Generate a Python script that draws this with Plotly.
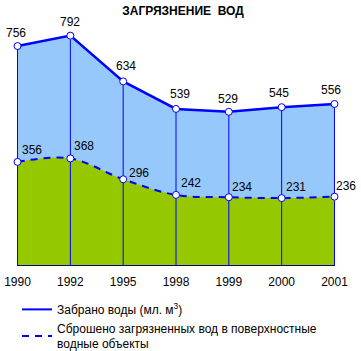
import plotly.graph_objects as go

years = ["1990", "1992", "1995", "1998", "1999", "2000", "2001"]
water_taken = [756, 792, 634, 539, 529, 545, 556]
water_discharged = [356, 368, 296, 242, 234, 231, 236]

title_text = "<b>ЗАГРЯЗНЕНИЕ\u00a0\u00a0ВОД</b>"
legend_taken = "Забрано воды (мл. м<sup>3</sup>)"
legend_discharged = "Сброшено загрязненных вод в поверхностные<br>водные объекты"

BLUE = "#0000FF"
LIGHT = "#96C8FC"
GREEN = "#96C800"
FONT = "Liberation Sans, Arial, sans-serif"

xi = list(range(len(years)))

# label offsets (pixels)
up_dx = [-2, 0, 3, 4, -1, -3, -3]
up_dy = [13, 14, 15, 15, 13, 14, 14]
lo_dx = [14, 14, 16, 15, 13, 14, 12]
lo_dy = [12, 12, 6, 12, 10, 11, 11]

fig = go.Figure()

# fills
fig.add_trace(go.Scatter(x=xi, y=water_taken, mode="none", fill="tozeroy",
                         fillcolor=LIGHT, showlegend=False, hoverinfo="skip"))
fig.add_trace(go.Scatter(x=xi, y=water_discharged, mode="none", fill="tozeroy",
                         fillcolor=GREEN, line=dict(shape="spline", smoothing=1),
                         showlegend=False, hoverinfo="skip"))

# drop lines
dx, dy = [], []
for i, v in zip(xi, water_taken):
    dx += [i, i, None]
    dy += [0, v, None]
fig.add_trace(go.Scatter(x=dx, y=dy, mode="lines", line=dict(color=BLUE, width=1),
                         showlegend=False, hoverinfo="skip"))

# lines with markers
fig.add_trace(go.Scatter(x=xi, y=water_discharged, mode="lines+markers", cliponaxis=False,
                         line=dict(color=BLUE, width=2, dash="7px,6px", shape="spline", smoothing=1),
                         marker=dict(size=7, color="white", line=dict(color=BLUE, width=1)),
                         showlegend=False))
fig.add_trace(go.Scatter(x=xi, y=water_taken, mode="lines+markers", cliponaxis=False,
                         line=dict(color=BLUE, width=2.5),
                         marker=dict(size=7, color="white", line=dict(color=BLUE, width=1)),
                         showlegend=False))

# legend-only traces
fig.add_trace(go.Scatter(x=[None], y=[None], mode="lines", name=legend_taken,
                         line=dict(color=BLUE, width=2)))
fig.add_trace(go.Scatter(x=[None], y=[None], mode="lines", name=legend_discharged,
                         line=dict(color=BLUE, width=2, dash="7px,6px")))

annotations = []
for i, v, ddx, ddy in zip(xi, water_taken, up_dx, up_dy):
    annotations.append(dict(x=i, y=v, xref="x", yref="y", text=str(v), showarrow=False,
                            xshift=ddx, yshift=ddy, font=dict(family=FONT, size=12, color="black")))
for i, v, ddx, ddy in zip(xi, water_discharged, lo_dx, lo_dy):
    annotations.append(dict(x=i, y=v, xref="x", yref="y", text=str(v), showarrow=False,
                            xshift=ddx, yshift=ddy, font=dict(family=FONT, size=12, color="black")))

fig.update_layout(
    width=361, height=351,
    margin=dict(l=17, r=26, t=20, b=86, autoexpand=False),
    paper_bgcolor="white", plot_bgcolor="white",
    font=dict(family=FONT, size=12, color="black"),
    title=dict(text=title_text, x=183/361, xref="container", xanchor="center",
               y=1-11/351, yref="container", yanchor="middle",
               font=dict(family=FONT, size=12, color="black")),
    xaxis=dict(range=[-0.01, 6.01], tickmode="array", tickvals=xi, ticktext=years,
               showgrid=False, zeroline=False, showline=True, linecolor="#000080", linewidth=1,
               ticks="outside", ticklen=6, tickcolor="rgba(0,0,0,0)",
               tickfont=dict(family=FONT, size=12, color="black"), fixedrange=True),
    yaxis=dict(range=[0, 846], visible=False, fixedrange=True),
    showlegend=True,
    legend=dict(x=0, xanchor="left", y=-0.122, yanchor="top", bgcolor="rgba(0,0,0,0)",
                font=dict(family=FONT, size=12, color="black"), tracegroupgap=0),
    annotations=annotations,
)

fig.write_html("out.html")
